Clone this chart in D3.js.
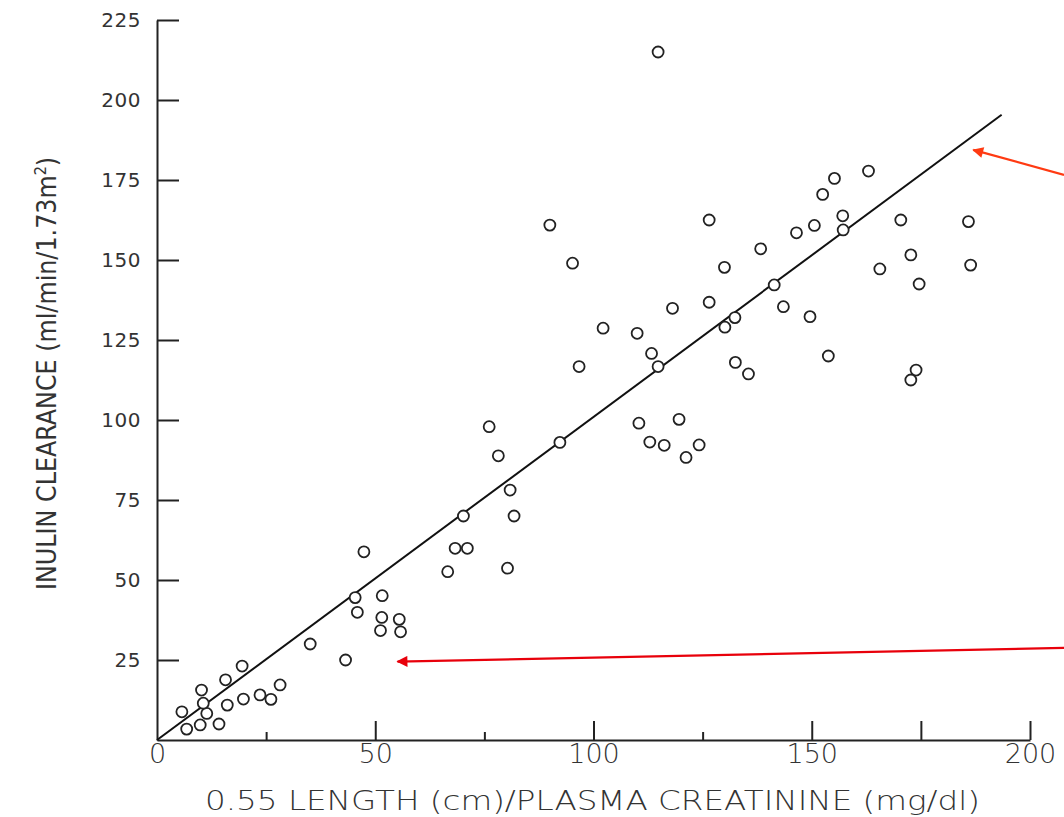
<!DOCTYPE html>
<html>
  <head>
    <title>Inulin clearance</title>
    <script src="https://d3js.org/d3.v7.min.js"></script>
    <style>
      body {
        margin: 0;
        background: #fff;
      }
      .axis path,
      .axis line {
        stroke: #222;
        stroke-width: 2px;
      }
      .y.axis text {
        font: 20px "DejaVu Sans", sans-serif;
        letter-spacing: 0.5px;
        fill: #333;
      }
      .x.axis text {
        font: 200 27px "DejaVu Sans", sans-serif;
        fill: #333;
      }
      .title {
        fill: #333;
      }
      .dot {
        fill: #fff;
        stroke: #222;
        stroke-width: 1.8px;
      }
      .fit {
        fill: none;
        stroke: #111;
        stroke-width: 2px;
      }
    </style>
  </head>
  <body>
    <div id="chart"></div>
    <script>
      // values
      var ratioX = [6.8, 5.7, 9.9, 11.4, 10.6, 10.2, 14.2, 16.1, 15.7, 19.5, 19.8, 23.6, 26.1, 28.2,
        35.1, 43.2, 45.4, 45.9, 47.4, 51.6, 51.5, 51.2, 55.5, 55.8,
        66.6, 68.3, 71.1, 70.2, 80.3, 81.8, 80.9, 78.2, 76.1, 92.3, 96.7, 95.2, 90.0,
        102.2, 110.0, 113.3, 114.8, 118.1, 110.4, 112.9, 116.2, 119.6, 121.2, 124.2,
        126.5, 126.5, 130.0, 130.1, 132.4, 132.5, 135.5, 138.3, 141.4, 143.5, 146.5,
        149.6, 150.6, 152.5, 153.8, 155.2, 157.1, 157.2, 163.0, 165.6, 170.4, 172.7,
        174.6, 173.9, 172.7, 185.9, 186.4, 114.8];
      var inulin = [3.4, 8.8, 4.7, 8.3, 11.5, 15.6, 5.0, 10.9, 18.8, 23.1, 12.8, 14.1, 12.7, 17.2,
        30.0, 25.0, 44.5, 39.9, 58.8, 45.1, 38.3, 34.2, 37.7, 33.8,
        52.6, 59.9, 59.9, 70.0, 53.7, 70.0, 78.1, 88.8, 97.9, 93.0, 116.7, 149.0, 160.9,
        128.7, 127.1, 120.8, 116.7, 134.9, 99.0, 93.1, 92.1, 100.2, 88.3, 92.2,
        162.5, 136.8, 147.7, 129.0, 132.0, 118.0, 114.4, 153.5, 142.2, 135.4, 158.5,
        132.3, 160.8, 170.5, 120.0, 175.5, 163.8, 159.4, 177.8, 147.2, 162.5, 151.6,
        142.5, 115.6, 112.5, 162.0, 148.4, 215.0];

      // regression line end points
      var fitX = [0, 193.5];
      var fitY = [0, 195.4];

      var xTicks = [0, 25, 50, 75, 100, 125, 150, 175, 200];
      var xTickLabels = ["0", "", "50", "", "100", "", "150", "", "200"];
      var longXTicks = [50, 100, 150, 175, 200];
      var yTicks = [0, 25, 50, 75, 100, 125, 150, 175, 200, 225];

      // red pointers drawn on the slide, [x1, y1, x2(tip), y2(tip)] in data units
      var pointers = [
        [207.8, 176.6, 187.0, 184.4],
        [207.8, 28.8, 55.1, 24.5]
      ];
      var pointerColors = ["#ff3a12", "#e8000b"];

      var width = 1064,
        height = 817;

      var x = d3.scaleLinear().domain([0, 200]).range([157, 1030]);
      var y = d3.scaleLinear().domain([0, 225]).range([740, 20]);

      var svg = d3.select("#chart")
        .append("svg")
        .attr("width", width)
        .attr("height", height);

      var defs = svg.append("defs");
      pointerColors.forEach(function(c, i) {
        defs.append("marker")
          .attr("id", "head" + i)
          .attr("viewBox", "0 0 10 10")
          .attr("refX", 9)
          .attr("refY", 5)
          .attr("markerWidth", 6)
          .attr("markerHeight", 5)
          .attr("orient", "auto")
          .attr("markerUnits", "strokeWidth")
          .append("path")
          .attr("d", "M0,0L10,5L0,10z")
          .attr("fill", c);
      });

      // axes
      var xAxis = svg.append("g")
        .attr("class", "x axis")
        .attr("transform", "translate(0," + y(0) + ")")
        .call(d3.axisBottom(x)
          .tickValues(xTicks)
          .tickFormat(function(d, i) { return xTickLabels[i]; })
          .tickSize(-8)
          .tickSizeOuter(0)
          .tickPadding(4));

      xAxis.selectAll(".tick line")
        .attr("y2", function(d) {
          return longXTicks.indexOf(d) >= 0 ? -19 : (d === 0 ? 0 : -8);
        });

      var yAxis = svg.append("g")
        .attr("class", "y axis")
        .attr("transform", "translate(" + x(0) + ",0)")
        .call(d3.axisLeft(y)
          .tickValues(yTicks)
          .tickSize(-22)
          .tickSizeOuter(0)
          .tickPadding(16));

      yAxis.selectAll(".tick line")
        .filter(function(d) { return d === 0; })
        .remove();
      yAxis.selectAll(".tick text")
        .filter(function(d) { return d === 0; })
        .remove();

      // axis titles
      svg.append("text")
        .attr("class", "title")
        .attr("x", 205)
        .attr("y", 810)
        .attr("textLength", 775)
        .attr("lengthAdjust", "spacingAndGlyphs")
        .style("font", "200 26px 'DejaVu Sans', sans-serif")
        .text("0.55 LENGTH (cm)/PLASMA CREATININE (mg/dl)");

      var yt = svg.append("text")
        .attr("class", "title")
        .attr("transform", "translate(56,590) rotate(-90)")
        .style("font", "26.5px 'Liberation Sans Narrow', 'DejaVu Sans Condensed', sans-serif");
      yt.append("tspan").text("INULIN CLEARANCE (ml/min/1.73m");
      yt.append("tspan").attr("dy", -10).style("font-size", "16px").text("2");
      yt.append("tspan").attr("dy", 10).text(")");

      // regression line
      svg.append("path")
        .datum(d3.zip(fitX, fitY))
        .attr("class", "fit")
        .attr("d", d3.line()
          .x(function(d) { return x(d[0]); })
          .y(function(d) { return y(d[1]); }));

      // points
      svg.append("g")
        .selectAll("circle")
        .data(d3.zip(ratioX, inulin))
        .enter().append("circle")
        .attr("class", "dot")
        .attr("cx", function(d) { return x(d[0]); })
        .attr("cy", function(d) { return y(d[1]); })
        .attr("r", 5.5);

      // red pointers
      svg.append("g")
        .selectAll("line")
        .data(pointers)
        .enter().append("line")
        .attr("x1", function(d) { return x(d[0]); })
        .attr("y1", function(d) { return y(d[1]); })
        .attr("x2", function(d) { return x(d[2]); })
        .attr("y2", function(d) { return y(d[3]); })
        .attr("stroke", function(d, i) { return pointerColors[i]; })
        .attr("stroke-width", 2.2)
        .attr("marker-end", function(d, i) { return "url(#head" + i + ")"; });
    </script>
  </body>
</html>
